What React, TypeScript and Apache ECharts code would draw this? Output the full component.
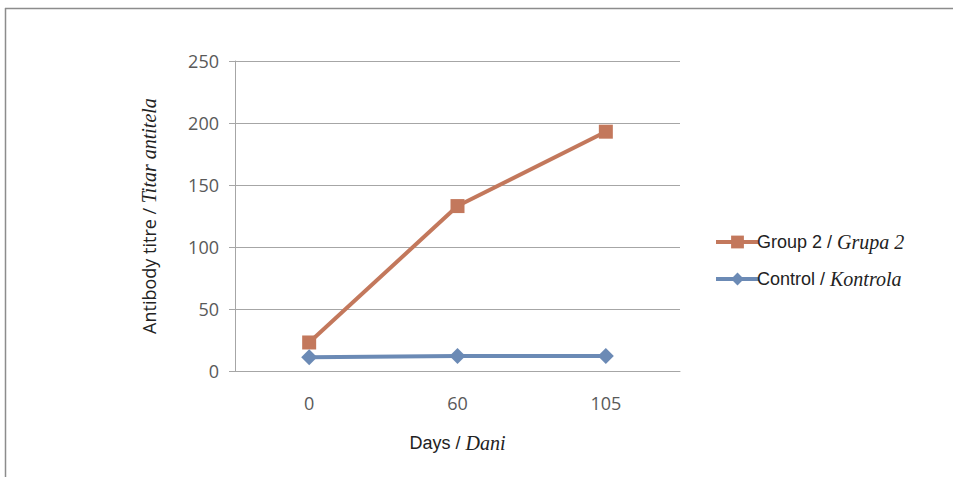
import React, { useEffect, useRef } from "react";
import * as echarts from "echarts";

const categories = ["0", "60", "105"];
const group2 = [23, 133, 193];
const control = [11, 12, 12];
const yTicks = { min: 0, max: 250, interval: 50 };

const sans = "'Open Sans', 'Liberation Sans', sans-serif";
const labelColor = "#595959";

export default function App() {
  const ref = useRef<HTMLDivElement>(null);
  useEffect(() => {
    if (!ref.current) return;
    const chart = echarts.init(ref.current, undefined, { renderer: "svg" });
    chart.setOption({
      animation: false,
      backgroundColor: "#ffffff",
      graphic: [
        { type: "line", shape: { x1: 5, y1: 8.5, x2: 953, y2: 8.5 }, style: { stroke: "#8c8c8c", lineWidth: 1.5 } },
        { type: "line", shape: { x1: 5.5, y1: 8, x2: 5.5, y2: 477 }, style: { stroke: "#8c8c8c", lineWidth: 1.5 } },
      ],
      grid: { left: 235, top: 61, width: 445, height: 310, containLabel: false },
      xAxis: {
        type: "category",
        data: categories,
        boundaryGap: true,
        axisLine: { lineStyle: { color: "#a6a6a6", width: 1 } },
        axisTick: { show: false },
        axisLabel: { color: labelColor, fontFamily: sans, fontSize: 18, margin: 23 },
        name: "{a|Days / }{b|Dani}",
        nameLocation: "middle",
        nameGap: 62,
        nameTextStyle: {
          rich: {
            a: { fontFamily: "'Liberation Sans', Arial, sans-serif", fontSize: 18, color: "#222" },
            b: { fontFamily: "'Liberation Serif', 'DejaVu Serif', serif", fontStyle: "italic", fontSize: 20, color: "#222" },
          },
        },
      },
      yAxis: {
        type: "value",
        min: yTicks.min,
        max: yTicks.max,
        interval: yTicks.interval,
        axisLine: { show: true, lineStyle: { color: "#a6a6a6", width: 1 } },
        axisTick: { show: true, length: 6, lineStyle: { color: "#a6a6a6" } },
        splitLine: { lineStyle: { color: "#a6a6a6", width: 1 } },
        axisLabel: { color: labelColor, fontFamily: sans, fontSize: 18, margin: 16 },
        name: "{a|Antibody titre / }{b|Titar antitela}",
        nameLocation: "middle",
        nameGap: 76,
        nameRotate: 90,
        nameTextStyle: {
          rich: {
            a: { fontFamily: sans, fontSize: 18, color: "#222" },
            b: { fontFamily: "'Liberation Serif', 'DejaVu Serif', serif", fontStyle: "italic", fontSize: 20, color: "#222" },
          },
        },
      },
      legend: {
        orient: "vertical",
        left: 709,
        top: 227,
        itemGap: 17,
        itemWidth: 43,
        itemHeight: 16,
        lineStyle: { width: 4 },
        data: ["Group 2 / Grupa 2", "Control / Kontrola"],
        formatter: (name: string) => {
          const [a, b] = name.split(" / ");
          return `{a|${a} / }{b|${b}}`;
        },
        textStyle: {
          padding: [0, 0, 0, -7],
          rich: {
            a: { fontFamily: "'Liberation Sans', Arial, sans-serif", fontSize: 18, color: "#222" },
            b: { fontFamily: "'Liberation Serif', 'DejaVu Serif', serif", fontStyle: "italic", fontSize: 20, color: "#222" },
          },
        },
      },
      series: [
        {
          name: "Group 2 / Grupa 2",
          type: "line",
          data: group2,
          symbol: "rect",
          symbolSize: 14,
          itemStyle: { color: "#C3785C" },
          lineStyle: { color: "#C3785C", width: 4 },
        },
        {
          name: "Control / Kontrola",
          type: "line",
          data: control,
          symbol: "diamond",
          symbolSize: 16,
          itemStyle: { color: "#6B8AB5" },
          lineStyle: { color: "#6B8AB5", width: 4 },
        },
      ],
    });
    return () => chart.dispose();
  }, []);
  return <div ref={ref} style={{ position: "fixed", left: 0, top: 0, width: 953, height: 477 }} />;
}
